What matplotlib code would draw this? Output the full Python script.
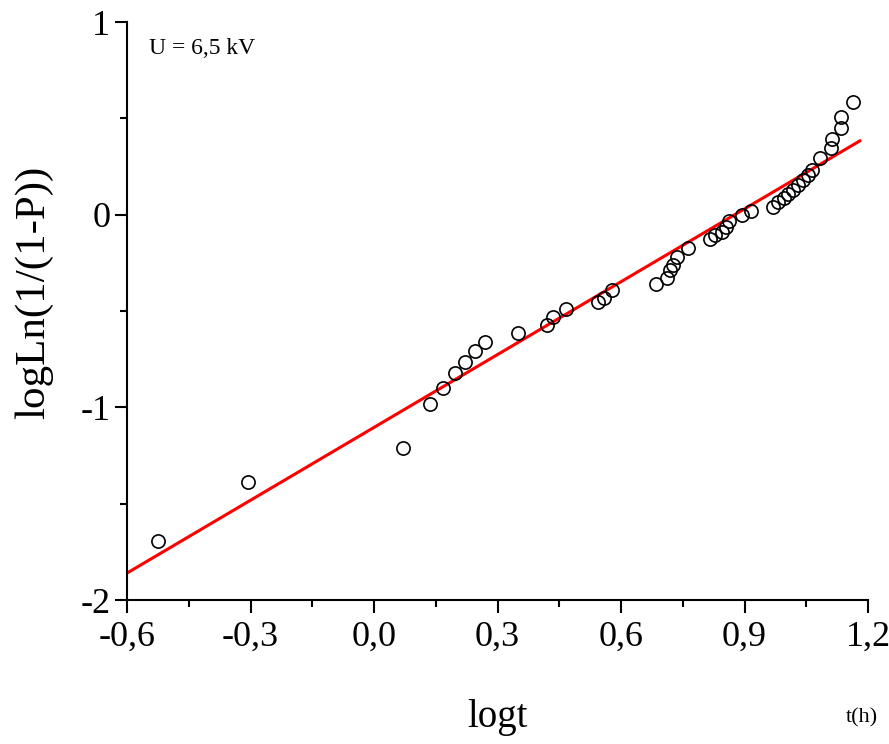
import matplotlib.pyplot as plt
from matplotlib.ticker import FixedLocator, FixedFormatter, MultipleLocator

plt.rcParams['font.family'] = ['Liberation Serif', 'DejaVu Serif']

# measured points: log t vs logLn(1/(1-P))
logt = [-0.525, -0.306, 0.070, 0.136, 0.168, 0.197, 0.221, 0.245, 0.270,
        0.350, 0.420, 0.435, 0.466, 0.544, 0.559, 0.578, 0.685, 0.712,
        0.719, 0.726, 0.736, 0.763, 0.816, 0.829, 0.845, 0.855, 0.862,
        0.894, 0.916, 0.969, 0.981, 0.996, 1.005, 1.017, 1.029, 1.042,
        1.054, 1.063, 1.083, 1.110, 1.112, 1.134, 1.134, 1.163]
logln = [-1.693, -1.387, -1.211, -0.982, -0.899, -0.821, -0.764, -0.707, -0.660,
         -0.614, -0.572, -0.531, -0.489, -0.453, -0.432, -0.391, -0.360, -0.328,
         -0.287, -0.261, -0.219, -0.173, -0.126, -0.105, -0.090, -0.064, -0.033,
         -0.002, 0.019, 0.040, 0.066, 0.087, 0.108, 0.128, 0.154, 0.180,
         0.206, 0.232, 0.294, 0.346, 0.395, 0.450, 0.507, 0.585]

# fitted line
fit_x = [-0.6, 1.18]
fit_y = [-1.86, 0.383]

xticks = [-0.6, -0.3, 0.0, 0.3, 0.6, 0.9, 1.2]
xlabels = ['-0,6', '-0,3', '0,0', '0,3', '0,6', '0,9', '1,2']
yticks = [-2, -1, 0, 1]
ylabels = ['-2', '-1', '0', '1']

fig = plt.figure(figsize=(8.89, 7.44), dpi=100)
ax = fig.add_axes([0.1429, 0.1935, 0.8335, 0.7769])

ax.plot(fit_x, fit_y, color='red', lw=2.2, zorder=2)
ax.plot(logt, logln, 'o', ms=9.5, mfc='none', mec='black', mew=1.2, zorder=3,
        clip_on=False)

ax.set_xlim(-0.6, 1.2)
ax.set_ylim(-2, 1)

ax.spines['top'].set_visible(False)
ax.spines['right'].set_visible(False)
for s in ['left', 'bottom']:
    ax.spines[s].set_linewidth(1.5)

ax.xaxis.set_major_locator(FixedLocator(xticks))
ax.xaxis.set_major_formatter(FixedFormatter(xlabels))
ax.xaxis.set_minor_locator(MultipleLocator(0.15))
ax.yaxis.set_major_locator(FixedLocator(yticks))
ax.yaxis.set_major_formatter(FixedFormatter(ylabels))
ax.yaxis.set_minor_locator(MultipleLocator(0.5))

ax.tick_params(which='major', direction='out', length=9, width=1.5,
               labelsize=26, pad=6)
ax.tick_params(which='minor', direction='out', length=5, width=1.5)
ax.tick_params(axis='y', pad=3)

fig.text(0.038, 1 - 292 / 744, 'logLn(1/(1-P))', rotation=90,
         ha='center', va='center', fontsize=31)
fig.text(497 / 889, 1 - 718 / 744, 'logt', ha='center', va='center',
         fontsize=28)
fig.text(862 / 889, 1 - 718 / 744, 't(h)', ha='center', va='center',
         fontsize=16)
ax.text(0.03, 0.955, 'U = 6,5 kV', transform=ax.transAxes, ha='left',
        va='center', fontsize=17)

fig.savefig('out.png', dpi=100)
